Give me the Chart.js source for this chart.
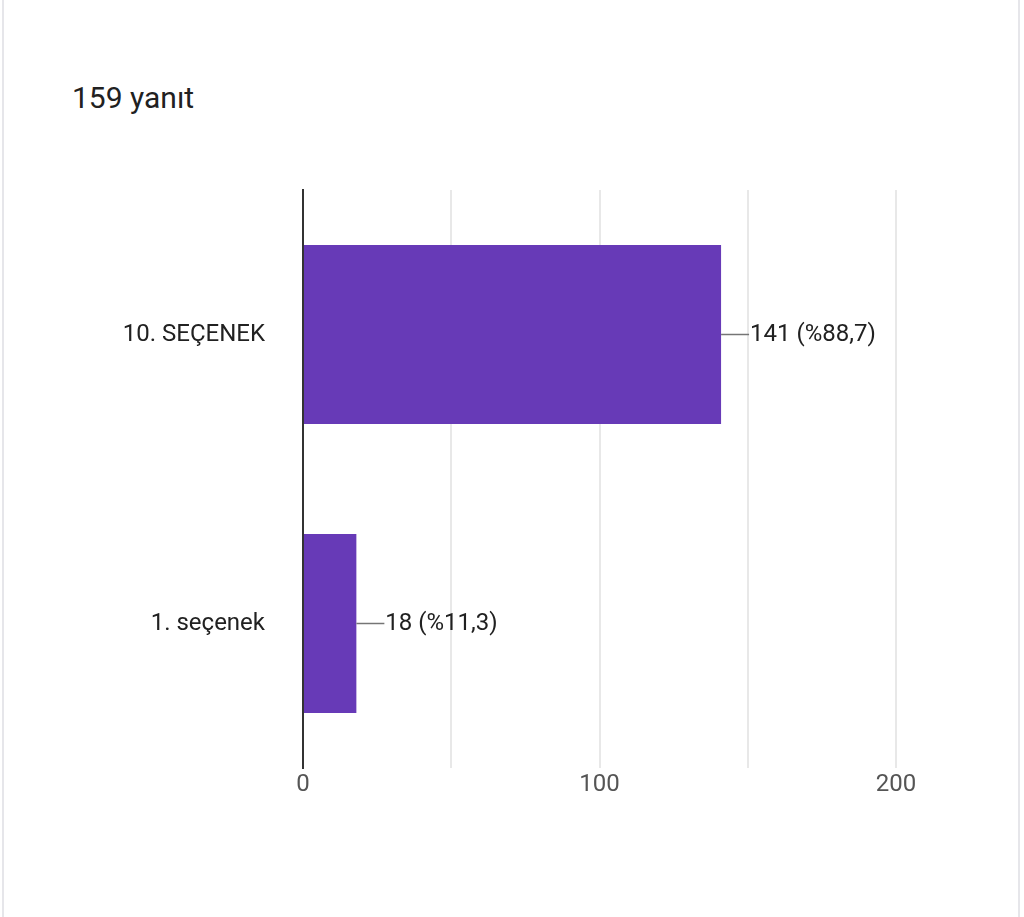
<!DOCTYPE html>
<html>
<head>
<meta charset="utf-8">
<script src="https://cdn.jsdelivr.net/npm/chart.js@4"></script>
<style>
  html, body { margin: 0; padding: 0; background: #fff; }
  #wrap { position: relative; width: 1024px; height: 917px; overflow: hidden; }
  #frame { position: absolute; left: 2px; top: -20px; width: 1018px; height: 960px;
           border: 2px solid #e6e6ea; border-radius: 16px; box-sizing: border-box; }
  #title { position: absolute; left: 72px; top: 80px; font: 30px Roboto, sans-serif; color: #212121; }
  canvas { position: absolute; left: 0; top: 0; }
</style>
</head>
<body>
<div id="wrap">
  <div id="frame"></div>
  <div id="title">159 yanıt</div>
  <canvas id="chart" width="1024" height="917"></canvas>
</div>
<script>
const categories = ['10. SEÇENEK', '1. seçenek'];
const counts = [141, 18];
const percentLabels = ['%88,7', '%11,3'];
const xTicks = [0, 100, 200];

const valueLabels = {
  id: 'valueLabels',
  afterDatasetsDraw(chart) {
    const ctx = chart.ctx;
    const meta = chart.getDatasetMeta(0);
    ctx.save();
    ctx.font = '24px Roboto, sans-serif';
    ctx.fillStyle = '#212121';
    ctx.strokeStyle = '#757575';
    ctx.lineWidth = 1.5;
    ctx.textBaseline = 'middle';
    meta.data.forEach((bar, i) => {
      const x = bar.x, y = bar.y;
      ctx.beginPath();
      ctx.moveTo(x, y);
      ctx.lineTo(x + 28, y);
      ctx.stroke();
      ctx.fillText(counts[i] + ' (' + percentLabels[i] + ')', x + 29, y);
    });
    ctx.restore();
  }
};

new Chart(document.getElementById('chart'), {
  type: 'bar',
  data: {
    labels: categories,
    datasets: [{
      data: counts,
      backgroundColor: '#673ab7',
      categoryPercentage: 0.62,
      barPercentage: 1
    }]
  },
  options: {
    indexAxis: 'y',
    responsive: false,
    animation: false,
    layout: { padding: { top: 190, right: 128, bottom: 99, left: 0 } },
    plugins: { legend: { display: false }, tooltip: { enabled: false } },
    scales: {
      x: {
        min: 0, max: 200,
        ticks: {
          stepSize: 50,
          color: '#555',
          font: { size: 24, family: 'Roboto' },
          callback: v => xTicks.includes(v) ? v : ''
        },
        grid: { color: '#e8e8e8', lineWidth: 2, drawTicks: false },
        border: { display: false },
        afterFit: s => { s.height = 50; }
      },
      y: {
        ticks: { color: '#212121', font: { size: 24, family: 'Roboto' }, padding: 30 },
        grid: { display: false },
        border: { color: '#333', width: 2 },
        afterFit: s => { s.width = 303; }
      }
    }
  },
  plugins: [valueLabels]
});
</script>
</body>
</html>
